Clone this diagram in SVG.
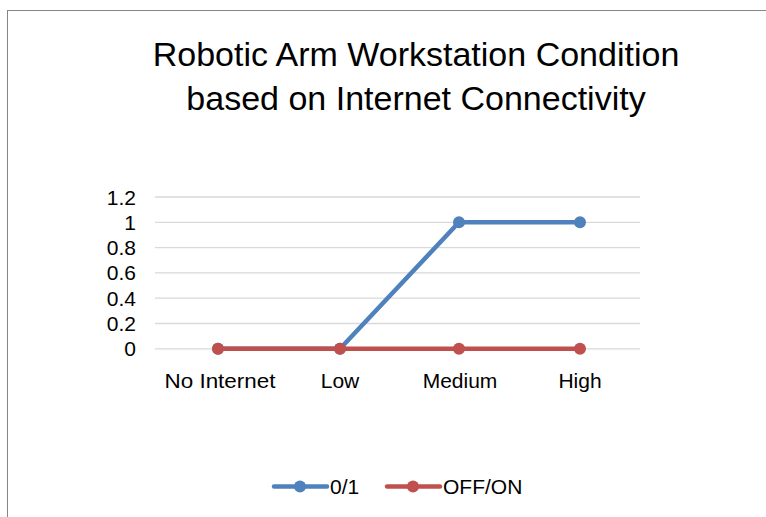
<svg xmlns="http://www.w3.org/2000/svg" width="766" height="517" viewBox="0 0 766 517">
<style>
.t{font-family:"Liberation Sans",Arial,sans-serif;fill:#000}
.grid{stroke:#d9d9d9;stroke-width:1.3}
.s1{stroke:#4f81bd;stroke-width:4.5;fill:none;stroke-linejoin:round;stroke-linecap:round}
.s2{stroke:#c0504d;stroke-width:4.5;fill:none;stroke-linejoin:round;stroke-linecap:round}
.m1{fill:#4f81bd}
.m2{fill:#c0504d}
</style>
<rect x="0" y="0" width="766" height="517" fill="#fff"/>
<rect x="7.5" y="10.5" width="770" height="520" fill="#fff" stroke="#868686" stroke-width="1"/>
<g id="title">
<text class="t" x="416" y="66" font-size="34" text-anchor="middle">Robotic Arm Workstation Condition</text>
<text class="t" x="416" y="110" font-size="34" text-anchor="middle">based on Internet Connectivity</text>
</g>
<g id="grid">
<line class="grid" x1="155" y1="197" x2="640" y2="197"/>
<line class="grid" x1="155" y1="222.3" x2="640" y2="222.3"/>
<line class="grid" x1="155" y1="247.6" x2="640" y2="247.6"/>
<line class="grid" x1="155" y1="272.9" x2="640" y2="272.9"/>
<line class="grid" x1="155" y1="298.2" x2="640" y2="298.2"/>
<line class="grid" x1="155" y1="323.5" x2="640" y2="323.5"/>
<line class="grid" x1="155" y1="348.8" x2="640" y2="348.8"/>
</g>
<g id="y-axis" font-size="21">
<text class="t" x="136" y="204.5" text-anchor="end">1.2</text>
<text class="t" x="136" y="229.8" text-anchor="end">1</text>
<text class="t" x="136" y="255.1" text-anchor="end">0.8</text>
<text class="t" x="136" y="280.4" text-anchor="end">0.6</text>
<text class="t" x="136" y="305.7" text-anchor="end">0.4</text>
<text class="t" x="136" y="331" text-anchor="end">0.2</text>
<text class="t" x="136" y="356.3" text-anchor="end">0</text>
</g>
<g id="x-axis" font-size="21">
<text class="t" x="220" y="388" text-anchor="middle" textLength="111" lengthAdjust="spacingAndGlyphs">No Internet</text>
<text class="t" x="340" y="388" text-anchor="middle">Low</text>
<text class="t" x="460" y="388" text-anchor="middle">Medium</text>
<text class="t" x="580" y="388" text-anchor="middle">High</text>
</g>
<g id="connectors">
<polyline id="series-01" class="s1" points="218,348.8 340,348.8 459,222.3 580,222.3"/>
<polyline id="series-offon" class="s2" points="218,348.8 340,348.8 459,348.8 580,348.8"/>
</g>
<g id="markers">
<circle class="m1" cx="218" cy="348.8" r="6"/>
<circle class="m1" cx="340" cy="348.8" r="6"/>
<circle class="m1" cx="459" cy="222.3" r="6"/>
<circle class="m1" cx="580" cy="222.3" r="6"/>
<circle class="m2" cx="218" cy="348.8" r="6"/>
<circle class="m2" cx="340" cy="348.8" r="6"/>
<circle class="m2" cx="459" cy="348.8" r="6"/>
<circle class="m2" cx="580" cy="348.8" r="6"/>
</g>
<g id="legend" font-size="21">
<line class="s1" x1="274" y1="486.5" x2="327" y2="486.5"/>
<circle class="m1" cx="300" cy="486.5" r="6"/>
<text class="t" x="330" y="494">0/1</text>
<line class="s2" x1="387" y1="486.5" x2="440" y2="486.5"/>
<circle class="m2" cx="413" cy="486.5" r="6"/>
<text class="t" x="443" y="494">OFF/ON</text>
</g>
</svg>
